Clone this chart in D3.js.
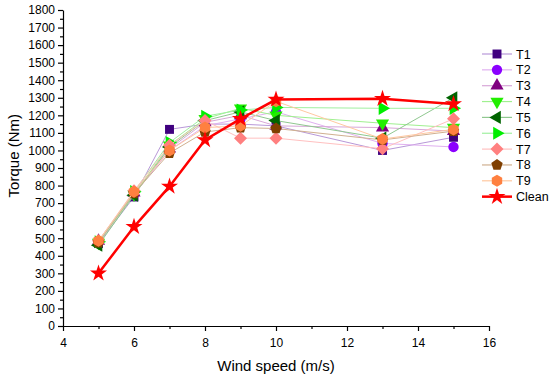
<!DOCTYPE html>
<html>
<head>
<meta charset="utf-8">
<script src="https://cdn.jsdelivr.net/npm/d3@7"></script>
<style>
  body { margin: 0; background: #fff; }
  text { font-family: Arial, "Liberation Sans", sans-serif; }
</style>
</head>
<body>
<svg id="chart" width="550" height="376"></svg>
<script>
// Data
var windSpeed = [5, 6, 7, 8, 9, 10, 13, 15];
var T1 = [470, 735, 1120, 1150, 1150, 1140, 1000, 1075];
var T2 = [480, 750, 1000, 1140, 1180, 1220, 1040, 1020];
var T3 = [485, 760, 1010, 1160, 1200, 1140, 1130, 1110];
var T4 = [475, 750, 1030, 1180, 1240, 1200, 1155, 1130];
var T5 = [460, 745, 1020, 1170, 1220, 1170, 1070, 1300];
var T6 = [480, 765, 1045, 1195, 1230, 1245, 1240, 1240];
var T7 = [485, 770, 1030, 1170, 1070, 1070, 1010, 1180];
var T8 = [475, 755, 985, 1105, 1130, 1125, 1060, 1110];
var T9 = [485, 765, 1000, 1130, 1140, 1280, 1065, 1120];
var Clean = [300, 565, 795, 1060, 1180, 1290, 1295, 1265];

var seriesNames = ["T1", "T2", "T3", "T4", "T5", "T6", "T7", "T8", "T9", "Clean"];
var seriesValues = [T1, T2, T3, T4, T5, T6, T7, T8, T9, Clean];
var markerColors = ["#3f007f", "#8b00ff", "#800080", "#22ee00", "#006400", "#00ee00", "#ff8080", "#7f3f00", "#ff8040", "#ff0000"];
var lineColors = ["#b898d8", "#e0b0f0", "#d8a8d8", "#a0f090", "#90c890", "#a0f0a0", "#ffc0c0", "#d0b090", "#ffc8a0", "#ff0000"];
var shapes = ["square", "circle", "up", "down", "left", "right", "diamond", "pentagon", "hexagon", "star"];

var xTicks = [4, 6, 8, 10, 12, 14, 16];

var svg = d3.select("#chart"),
    margin = {left: 63, right: 61, top: 10, bottom: 50},
    width = +svg.attr("width") - margin.left - margin.right,
    height = +svg.attr("height") - margin.top - margin.bottom;

var x = d3.scaleLinear().domain([4, 16]).range([margin.left, margin.left + width]);
var y = d3.scaleLinear().domain([0, 1800]).range([margin.top + height, margin.top]);

// axes
var xAxis = svg.append("g")
    .attr("transform", "translate(0," + (margin.top + height) + ")")
    .call(d3.axisBottom(x).tickValues(xTicks).tickSize(5).tickSizeOuter(0));
svg.append("g")
    .attr("transform", "translate(0," + (margin.top + height) + ")")
    .call(d3.axisBottom(x).tickValues(d3.range(5, 16, 2)).tickSize(3).tickFormat(""))
    .select(".domain").remove();

var yAxis = svg.append("g")
    .attr("transform", "translate(" + margin.left + ",0)")
    .call(d3.axisLeft(y).tickValues(d3.range(0, 1801, 100)).tickFormat(d3.format("d")).tickSize(5).tickSizeOuter(0));
svg.append("g")
    .attr("transform", "translate(" + margin.left + ",0)")
    .call(d3.axisLeft(y).tickValues(d3.range(50, 1800, 100)).tickSize(3).tickFormat(""))
    .select(".domain").remove();

svg.selectAll(".tick text").style("font-size", "12px").attr("fill", "#000");
xAxis.selectAll(".tick text").attr("dy", "1.05em");
svg.selectAll(".domain, .tick line").attr("stroke", "#000").attr("stroke-width", 1.2);

svg.append("text")
    .attr("x", x(10)).attr("y", 371)
    .attr("text-anchor", "middle")
    .style("font-size", "15px")
    .text("Wind speed (m/s)");

svg.append("text")
    .attr("transform", "translate(19," + y(970) + ") rotate(-90)")
    .attr("text-anchor", "middle")
    .style("font-size", "15px")
    .text("Torque (Nm)");

// marker shapes
function polygon(n, r, rot) {
  var pts = d3.range(n).map(function(i) {
    var a = rot + i * 2 * Math.PI / n;
    return [r * Math.sin(a), -r * Math.cos(a)];
  });
  return "M" + pts.join("L") + "Z";
}
function markerPath(shape) {
  var tri = d3.symbol().type(d3.symbolTriangle).size(75)();
  switch (shape) {
    case "square": return d3.symbol().type(d3.symbolSquare).size(80)();
    case "circle": return d3.symbol().type(d3.symbolCircle).size(85)();
    case "diamond": return polygon(4, 6.5, 0);
    case "pentagon": return polygon(5, 6, 0);
    case "hexagon": return polygon(6, 6, 0);
    case "star": return d3.symbol().type(d3.symbolStar).size(90)();
    default: return tri;
  }
}
var rotation = {up: 0, down: 180, left: -90, right: 90};

var line = d3.line()
    .x(function(d, i) { return x(windSpeed[i]); })
    .y(function(d) { return y(d); });

seriesValues.forEach(function(vals, k) {
  var isClean = seriesNames[k] === "Clean";
  svg.append("path")
      .datum(vals)
      .attr("d", line)
      .attr("fill", "none")
      .attr("stroke", lineColors[k])
      .attr("stroke-width", isClean ? 2.5 : 1);

  svg.append("g").selectAll("path")
    .data(vals)
    .enter()
    .append("path")
      .attr("d", markerPath(shapes[k]))
      .attr("transform", function(d, i) {
        return "translate(" + x(windSpeed[i]) + "," + y(d) + ") rotate(" + (rotation[shapes[k]] || 0) + ")";
      })
      .attr("fill", markerColors[k]);
});

// legend
var legend = svg.append("g").attr("transform", "translate(482,54)");
seriesNames.forEach(function(name, k) {
  var g = legend.append("g").attr("transform", "translate(0," + (k * 15.85) + ")");
  g.append("line")
      .attr("x1", 0).attr("x2", 30)
      .attr("stroke", lineColors[k])
      .attr("stroke-width", name === "Clean" ? 2.5 : 1.2);
  g.append("path")
      .attr("d", markerPath(shapes[k]))
      .attr("transform", "translate(15,0) rotate(" + (rotation[shapes[k]] || 0) + ")")
      .attr("fill", markerColors[k]);
  g.append("text")
      .attr("x", 34).attr("y", 0).attr("dy", "0.36em")
      .style("font-size", "12.5px")
      .text(name);
});
</script>
</body>
</html>
